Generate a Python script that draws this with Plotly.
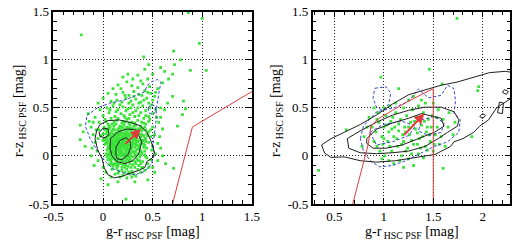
import plotly.graph_objects as go

# ---------------- data ----------------
left_pts = [
 (0.03,0.36),(0.09,0.33),(0.14,0.37),(0.19,0.34),(0.24,0.38),(0.29,0.35),(0.35,0.37),(0.41,0.34),(0.46,0.36),
 (0.01,0.3),(0.06,0.28),(0.11,0.31),(0.16,0.29),(0.21,0.32),(0.26,0.29),(0.31,0.31),(0.36,0.28),(0.42,0.3),(0.48,0.27),
 (-0.04,0.27),(0.04,0.25),(0.09,0.26),(0.13,0.24),(0.18,0.27),(0.23,0.25),(0.28,0.26),(0.33,0.24),(0.39,0.26),(0.44,0.23),
 (-0.02,0.21),(0.03,0.19),(0.07,0.22),(0.11,0.2),(0.15,0.22),(0.19,0.2),(0.22,0.23),(0.26,0.21),(0.3,0.19),(0.34,0.22),(0.38,0.2),(0.43,0.18),
 (0.0,0.16),(0.05,0.15),(0.09,0.17),(0.12,0.15),(0.16,0.17),(0.2,0.16),(0.24,0.18),(0.27,0.15),(0.31,0.17),(0.35,0.15),(0.4,0.16),(0.46,0.14),
 (0.02,0.12),(0.06,0.1),(0.1,0.13),(0.13,0.11),(0.17,0.13),(0.21,0.11),(0.25,0.13),(0.28,0.1),(0.32,0.12),(0.36,0.1),(0.41,0.12),
 (0.04,0.06),(0.08,0.08),(0.11,0.05),(0.15,0.07),(0.18,0.09),(0.22,0.06),(0.26,0.08),(0.3,0.05),(0.34,0.07),(0.38,0.05),(0.44,0.08),
 (0.03,0.02),(0.07,0.0),(0.1,0.03),(0.14,0.01),(0.17,0.03),(0.21,0.0),(0.24,0.02),(0.28,0.0),(0.32,0.02),(0.37,-0.01),(0.42,0.01),
 (0.05,-0.04),(0.09,-0.02),(0.13,-0.05),(0.16,-0.03),(0.2,-0.05),(0.24,-0.03),(0.29,-0.05),(0.34,-0.03),(0.4,-0.06),
 (0.06,-0.09),(0.11,-0.08),(0.15,-0.1),(0.2,-0.09),(0.25,-0.11),(0.3,-0.09),(0.36,-0.1),(0.45,-0.08),
 (0.09,-0.14),(0.14,-0.13),(0.19,-0.15),(0.24,-0.14),(0.29,-0.16),(0.35,-0.14),(0.42,-0.15),
 (0.12,-0.19),(0.2,-0.2),(0.27,-0.19),(0.33,-0.21),(0.08,-0.22),
 (0.12,0.09),(0.16,0.04),(0.19,0.12),(0.23,0.15),(0.14,0.18),(0.18,0.07),(0.22,0.02),(0.26,0.05),(0.2,0.19),(0.25,0.24),
 (0.17,0.22),(0.13,0.14),(0.1,0.07),(0.15,-0.01),(0.19,0.03),(0.23,0.1),(0.27,0.19),(0.29,0.13),(0.08,0.12),(0.11,0.19),
 (0.16,0.1),(0.21,0.14),(0.24,0.07),(0.18,-0.06),(0.12,-0.03),(0.3,0.23),(0.22,0.28),(0.07,0.04),(0.26,-0.01),(0.33,0.18),
 (0.05,0.33),(0.11,0.35),(0.17,0.31),(0.22,0.35),(0.27,0.32),(0.32,0.34),(0.38,0.31),(0.43,0.33),
 (0.02,0.27),(0.07,0.3),(0.12,0.27),(0.17,0.25),(0.2,0.29),(0.25,0.27),(0.3,0.28),(0.35,0.26),(0.4,0.28),(0.46,0.25),
 (0.0,0.23),(0.05,0.21),(0.1,0.23),(0.14,0.2),(0.18,0.23),(0.21,0.21),(0.24,0.21),(0.29,0.22),(0.32,0.2),(0.37,0.23),(0.41,0.21),
 (0.02,0.17),(0.07,0.18),(0.1,0.15),(0.14,0.16),(0.18,0.18),(0.22,0.17),(0.25,0.16),(0.29,0.18),(0.33,0.16),(0.37,0.17),(0.43,0.15),
 (0.04,0.13),(0.08,0.14),(0.11,0.11),(0.15,0.12),(0.19,0.14),(0.22,0.12),(0.26,0.11),(0.3,0.13),(0.34,0.11),(0.39,0.13),
 (0.05,0.09),(0.09,0.1),(0.13,0.07),(0.17,0.08),(0.2,0.1),(0.24,0.09),(0.28,0.07),(0.32,0.09),(0.36,0.07),(0.41,0.09),
 (0.06,0.03),(0.09,0.05),(0.12,0.02),(0.16,0.06),(0.19,0.05),(0.23,0.04),(0.27,0.03),(0.31,0.04),(0.35,0.02),(0.39,0.03),
 (0.04,-0.01),(0.08,-0.05),(0.11,0.0),(0.15,-0.04),(0.18,0.0),(0.22,-0.02),(0.26,-0.05),(0.3,-0.01),(0.35,-0.05),(0.44,-0.02),
 (0.08,-0.07),(0.13,-0.09),(0.17,-0.08),(0.22,-0.07),(0.27,-0.08),(0.32,-0.12),(0.38,-0.08),(0.4,-0.12),
 (0.1,-0.11),(0.16,-0.16),(0.22,-0.12),(0.26,-0.17),(0.31,-0.19),(0.38,-0.17),(0.17,-0.22),(0.24,-0.23),
 (0.06,0.31),(0.13,0.33),(0.2,0.36),(0.26,0.34),(0.33,0.32),(0.39,0.35),
 (0.04,0.28),(0.1,0.28),(0.15,0.27),(0.19,0.3),(0.24,0.3),(0.28,0.29),(0.33,0.28),(0.38,0.29),(0.43,0.27),
 (0.03,0.23),(0.08,0.24),(0.12,0.22),(0.16,0.24),(0.2,0.24),(0.23,0.22),(0.27,0.23),(0.31,0.24),(0.35,0.24),(0.39,0.22),(0.45,0.21),
 (0.04,0.18),(0.08,0.2),(0.12,0.17),(0.16,0.19),(0.19,0.17),(0.23,0.19),(0.26,0.17),(0.3,0.16),(0.34,0.19),(0.38,0.16),(0.42,0.18),
 (0.03,0.14),(0.07,0.12),(0.11,0.14),(0.15,0.14),(0.18,0.11),(0.22,0.14),(0.25,0.11),(0.29,0.11),(0.33,0.13),(0.37,0.12),(0.42,0.11),
 (0.06,0.07),(0.1,0.09),(0.14,0.09),(0.17,0.06),(0.21,0.08),(0.25,0.06),(0.29,0.08),(0.33,0.05),(0.37,0.08),(0.42,0.05),
 (0.05,0.01),(0.08,0.02),(0.13,0.04),(0.16,0.01),(0.2,0.02),(0.24,0.0),(0.28,0.03),(0.33,0.0),(0.38,0.01),(0.43,-0.01),
 (0.07,-0.03),(0.11,-0.03),(0.14,-0.07),(0.19,-0.03),(0.23,-0.05),(0.27,-0.03),(0.32,-0.06),(0.37,-0.05),
 (0.09,-0.09),(0.14,-0.11),(0.19,-0.12),(0.23,-0.09),(0.28,-0.12),(0.33,-0.08),(0.39,-0.12),(0.15,-0.18),(0.22,-0.17),(0.29,-0.22),
 (-0.08,0.4),(0.0,0.42),(0.06,0.45),(0.12,0.41),(0.18,0.44),(0.22,0.4),(0.27,0.43),(0.32,0.41),(0.38,0.45),(0.43,0.42),(0.5,0.44),
 (-0.03,0.48),(0.04,0.5),(0.1,0.52),(0.15,0.48),(0.2,0.51),(0.25,0.49),(0.3,0.53),(0.35,0.5),(0.4,0.52),(0.47,0.5),(0.53,0.48),
 (0.08,0.57),(0.14,0.58),(0.19,0.56),(0.23,0.6),(0.28,0.57),(0.33,0.59),(0.38,0.56),(0.44,0.6),(0.5,0.58),
 (0.13,0.64),(0.2,0.66),(0.26,0.63),(0.31,0.67),(0.36,0.64),(0.42,0.68),(0.47,0.72),(0.53,0.66),
 (0.18,0.7),(0.29,0.73),(0.35,0.71),(0.4,0.75),(0.45,0.8),(0.24,0.77),
 (0.02,0.38),(0.08,0.39),(0.15,0.39),(0.21,0.42),(0.26,0.39),(0.3,0.45),(0.36,0.42),(0.41,0.39),(0.46,0.41),
 (0.07,0.48),(0.13,0.46),(0.23,0.47),(0.28,0.5),(0.33,0.47),(0.43,0.47),(0.49,0.53),
 (0.11,0.55),(0.17,0.53),(0.26,0.55),(0.31,0.62),(0.36,0.55),(0.41,0.58),(0.46,0.55),(0.22,0.63),(0.39,0.63),(0.45,0.66),
 (-0.1,0.35),(-0.07,0.27),(-0.05,0.18),(-0.11,0.08),(0.48,0.2),(0.49,0.06),(0.46,-0.12),(0.54,0.4),
 (-0.12,0.3),(-0.1,0.22),(-0.08,0.14),(-0.06,0.05),(-0.04,0.35),(-0.14,0.36),(-0.2,0.25),(-0.05,-0.05),(0.0,-0.12),(0.03,-0.17),
 (0.5,0.3),(0.52,0.22),(0.5,0.1),(0.53,0.02),(0.48,-0.04),(0.5,-0.12),(0.56,0.35),(0.58,0.5),(0.47,0.38),(0.55,0.13),
 (-0.22,1.26),(0.86,1.49),(1.0,1.43),(0.97,1.17),(0.71,1.09),(0.41,1.03),(0.78,1.0),(0.72,0.95),(0.88,0.89),(1.04,0.89),
 (0.62,0.88),(0.5,0.85),(0.35,0.84),(0.42,0.9),(0.46,0.95),(0.38,0.78),(0.3,0.8),(0.25,0.85),(0.55,0.7),(0.6,0.76),
 (0.66,0.8),(0.7,0.85),(0.58,0.92),(0.81,0.57),(0.83,0.49),(0.8,0.43),(0.75,0.31),(0.63,-0.08),(0.71,-0.13),(-0.02,-0.24),
 (0.23,-0.45),(-0.23,0.32),(-0.23,0.17),(-0.15,0.44),(0.65,0.55),(0.7,0.62),(0.62,0.48),(0.58,0.4),(0.6,0.28),(0.57,0.2),
 (0.58,0.08),(0.6,0.0),(0.55,-0.05),(0.52,-0.17),(0.45,-0.25),(0.32,-0.27),(0.15,-0.27),(0.05,-0.3),(-0.09,-0.1),(-0.12,0.0),
 (-0.18,0.1),(0.2,0.82),(0.15,0.74),(0.1,0.7),(0.05,0.65),(0.0,0.6),(-0.05,0.55),(0.48,0.65),(0.52,0.62),
]
right_pts = [
 (1.74,1.43),(1.46,0.9),(0.97,0.82),(0.34,-0.15),(1.6,-0.13),(1.59,0.75),(0.62,0.27),(1.96,0.72),(1.89,0.2),(1.95,0.68),
 (1.15,0.7),(1.3,0.62),(1.38,0.58),(1.5,0.55),(1.55,0.48),(1.6,0.38),(1.65,0.3),(1.7,0.22),(0.9,0.5),(0.85,0.4),
 (0.88,0.3),(0.92,0.25),(0.95,0.35),(0.98,0.2),(1.0,0.3),(1.02,0.42),(1.04,0.15),(1.05,0.25),(1.07,0.36),(1.08,0.05),
 (1.1,0.2),(1.11,0.3),(1.12,0.45),(1.14,0.1),(1.15,0.26),(1.17,0.38),(1.18,0.0),(1.2,0.15),(1.21,0.3),(1.23,0.42),
 (1.24,0.08),(1.26,0.22),(1.27,0.35),(1.29,0.48),(1.3,0.12),(1.32,0.28),(1.33,0.4),(1.35,0.02),(1.36,0.18),(1.38,0.32),
 (1.4,0.45),(1.42,0.1),(1.43,0.25),(1.45,0.38),(1.47,0.15),(1.48,0.3),(1.5,0.05),(1.52,0.22),(1.53,0.4),(1.56,0.12),
 (0.9,0.15),(0.93,0.1),(0.96,0.05),(0.99,0.12),(1.01,0.0),(1.03,0.32),(1.06,0.1),(1.09,0.4),(1.13,0.18),(1.16,-0.05),
 (1.19,0.22),(1.22,0.05),(1.25,0.3),(1.28,0.16),(1.31,0.36),(1.34,0.24),(1.37,0.08),(1.39,0.2),(1.41,0.36),(1.44,0.06),
 (1.46,0.22),(1.49,0.42),(1.51,0.12),(1.54,0.3),(1.58,0.2),
 (0.94,0.45),(1.0,0.5),(1.06,0.52),(1.12,0.55),(1.2,0.5),(1.25,0.58),(1.35,0.52),(1.42,0.55),(0.98,-0.03),(1.1,-0.08),
 (1.25,-0.03),(1.4,-0.02),(1.3,-0.1),(1.2,-0.12),(1.05,-0.05),(0.93,0.38),(1.15,0.33),(1.22,0.25),(1.28,0.02),(1.34,0.12),
 (1.18,0.12),(1.08,0.28),(1.0,0.18),(1.44,0.3),(1.62,0.1),(1.66,0.45),(1.72,0.35),(0.8,0.2),(0.78,0.1),(0.83,0.3),
]
gx_left = [p[0] for p in left_pts]
gy_left = [p[1] for p in left_pts]
gx_right = [p[0] for p in right_pts]
gy_right = [p[1] for p in right_pts]

# contour paths (left panel)
left_black = [
 [(-0.033,0.325),(0.049,0.367),(0.162,0.374),(0.275,0.348),(0.373,0.315),(0.444,0.244),(0.486,0.146),(0.518,0.032),
  (0.496,-0.023),(0.444,-0.055),(0.421,-0.12),(0.356,-0.153),(0.275,-0.18),(0.194,-0.212),(0.113,-0.228),(0.049,-0.195),
  (0.01,-0.12),(-0.009,-0.033),(-0.055,0.065),(-0.081,0.179),(-0.065,0.26),(-0.033,0.325)],
 [(0.075,0.18),(0.15,0.25),(0.245,0.28),(0.33,0.27),(0.39,0.15),(0.36,0.02),(0.3,-0.05),(0.22,-0.08),(0.14,-0.06),
  (0.09,0.0),(0.07,0.08),(0.075,0.18)],
 [(0.13,0.0),(0.13,0.09),(0.17,0.16),(0.23,0.19),(0.27,0.16),(0.28,0.09),(0.25,0.01),(0.19,-0.04),(0.14,-0.03),(0.13,0.0)],
 [(-0.04,0.24),(0.0,0.29),(0.05,0.28),(0.06,0.22),(0.02,0.19),(-0.03,0.2),(-0.04,0.24)],
]
left_blue = [
 [(-0.162,0.422),(-0.05,0.504),(0.08,0.553),(0.21,0.58),(0.308,0.618),(0.42,0.667),(0.444,0.732),(0.486,0.77),
  (0.55,0.796),(0.583,0.764),(0.567,0.683),(0.55,0.57),(0.535,0.47),(0.535,0.374),(0.518,0.244),(0.503,0.114),
  (0.518,0.016),(0.486,-0.082),(0.42,-0.163),(0.324,-0.196),(0.21,-0.18),(0.097,-0.131),(0.016,-0.049),
  (-0.065,0.065),(-0.13,0.179),(-0.178,0.309),(-0.162,0.422)],
 [(0.455,0.5),(0.48,0.535),(0.525,0.52),(0.53,0.46),(0.5,0.43),(0.46,0.45),(0.455,0.5)],
]
# contour paths (right panel)
right_black = [
 [(0.37,0.114),(0.466,0.18),(0.598,0.245),(0.762,0.327),(0.925,0.425),(1.088,0.54),(1.252,0.637),(1.415,0.686),
  (1.578,0.735),(1.741,0.768),(1.905,0.817),(2.068,0.866),(2.23,0.88),(2.29,0.87)],
 [(2.29,0.6),(2.2,0.54),(2.14,0.5),(2.06,0.375),(1.97,0.31),(1.91,0.245),(1.8,0.18),(1.71,0.147),(1.675,0.098),
  (1.52,0.016),(1.32,-0.016),(1.12,-0.05),(0.925,-0.065),(0.76,-0.05),(0.6,-0.01),(0.466,-0.016),(0.4,0.03),(0.37,0.114)],
 [(0.63,0.18),(0.76,0.26),(0.925,0.35),(1.09,0.425),(1.25,0.474),(1.415,0.507),(1.58,0.507),(1.71,0.46),(1.76,0.375),
  (1.745,0.31),(1.645,0.245),(1.55,0.18),(1.415,0.098),(1.25,0.05),(1.09,0.033),(0.925,0.023),(0.76,0.033),(0.645,0.08),(0.63,0.18)],
 [(0.827,0.18),(0.925,0.277),(1.088,0.343),(1.252,0.392),(1.38,0.44),(1.578,0.392),(1.61,0.31),(1.51,0.245),(1.35,0.18),
  (1.186,0.114),(1.02,0.08),(0.892,0.08),(0.827,0.13),(0.827,0.18)],
 [(2.15,0.45),(2.17,0.56),(2.21,0.55),(2.2,0.44),(2.15,0.45)],
 [(2.2,0.66),(2.22,0.69),(2.26,0.67),(2.24,0.64),(2.2,0.66)],
 [(1.97,0.41),(2.0,0.44),(2.03,0.42),(2.0,0.39),(1.97,0.41)],
]
right_blue = [
 [(0.762,0.18),(0.794,0.31),(0.925,0.457),(1.12,0.507),(1.25,0.57),(1.35,0.696),(1.45,0.604),(1.578,0.63),(1.645,0.735),
  (1.71,0.7),(1.725,0.57),(1.71,0.44),(1.774,0.375),(1.758,0.245),(1.645,0.147),(1.51,0.098),(1.35,0.016),(1.22,-0.05),
  (1.088,-0.1),(0.958,-0.114),(0.86,-0.05),(0.794,0.05),(0.762,0.18)],
 [(0.91,0.704),(1.02,0.72),(1.07,0.653),(1.05,0.54),(0.99,0.474),(0.925,0.507),(0.89,0.604),(0.91,0.704)],
 [(0.86,0.245),(0.99,0.327),(1.186,0.36),(1.32,0.31),(1.25,0.212),(1.09,0.147),(0.925,0.114),(0.86,0.245)],
 [(1.38,0.376),(1.51,0.41),(1.61,0.343),(1.58,0.245),(1.45,0.212),(1.35,0.26),(1.38,0.376)],
]
# red boundary lines
left_red_x = [0.7, 0.9, 1.5]
left_red_y = [-0.5, 0.3, 0.67]
right_red_x = [0.685, 0.84, 0.87, 0.95, 1.088, 1.25, 1.5, 1.5]
right_red_y = [-0.5, 0.114, 0.31, 0.39, 0.474, 0.57, 0.70, -0.5]
# red arrows (tail -> head)
left_arrow = dict(x0=0.21, y0=0.11, x1=0.38, y1=0.28)
right_arrow = dict(x0=1.19, y0=0.2, x1=1.41, y1=0.44)

left_xticks = [-0.5, 0, 0.5, 1, 1.5]
left_xlabels = ["-0.5", "0", "0.5", "1", "1.5"]
right_xticks = [0.5, 1, 1.5, 2]
right_xlabels = ["0.5", "1", "1.5", "2"]
yticks = [-0.5, 0, 0.5, 1, 1.5]
ylabels = ["-0.5", "0", "0.5", "1", "1.5"]

# ---------------- figure ----------------
GREEN = "#3ae23a"
RED = "#e03c3c"
BLUE = "#3a48c8"
FONT = "Liberation Serif, Times New Roman, Times, serif"

fig = go.Figure()

def add_panel(xa, ya, gx, gy, blacks, blues, rx, ry, arrow):
    fig.add_trace(go.Scatter(x=gx, y=gy, mode="markers", xaxis=xa, yaxis=ya,
                             marker=dict(color=GREEN, size=2.8, symbol="square", line=dict(width=0)),
                             showlegend=False, hoverinfo="skip"))
    for path in blues:
        fig.add_trace(go.Scatter(x=[p[0] for p in path], y=[p[1] for p in path], mode="lines",
                                 xaxis=xa, yaxis=ya, line=dict(color=BLUE, width=1, dash="3px,2px"),
                                 showlegend=False, hoverinfo="skip"))
    for path in blacks:
        fig.add_trace(go.Scatter(x=[p[0] for p in path], y=[p[1] for p in path], mode="lines",
                                 xaxis=xa, yaxis=ya, line=dict(color="#202020", width=1),
                                 showlegend=False, hoverinfo="skip"))
    fig.add_trace(go.Scatter(x=rx, y=ry, mode="lines", xaxis=xa, yaxis=ya,
                             line=dict(color=RED, width=1), showlegend=False, hoverinfo="skip"))
    xr = "x" if xa == "x" else "x2"
    yr = "y" if ya == "y" else "y2"
    fig.add_annotation(x=arrow["x1"], y=arrow["y1"], ax=arrow["x0"], ay=arrow["y0"],
                       xref=xr, yref=yr, axref=xr, ayref=yr, text="", showarrow=True,
                       arrowhead=2, arrowsize=1, arrowwidth=2, arrowcolor=RED, standoff=0)

add_panel("x", "y", gx_left, gy_left, left_black, left_blue, left_red_x, left_red_y, left_arrow)
add_panel("x2", "y2", gx_right, gy_right, right_black, right_blue, right_red_x, right_red_y, right_arrow)

def axis(rng, domain, anchor, tv, tt):
    return dict(range=rng, domain=domain, anchor=anchor, tickvals=tv, ticktext=tt,
                showline=True, linecolor="black", linewidth=1.5, mirror="allticks",
                ticks="inside", ticklen=6, tickwidth=1, tickcolor="black",
                showgrid=True, gridcolor="#222222", griddash="1px,2px", gridwidth=1, zeroline=False,
                minor=dict(ticks="inside", ticklen=4, tickwidth=1, dtick=0.1, tick0=0,
                           tickcolor="black", showgrid=False),
                ticklabeloverflow="allow",
                tickfont=dict(family=FONT, size=13, color="black"), fixedrange=True)

ydom = [0.169, 0.980]
fig.update_layout(
    width=520, height=252, margin=dict(l=0, r=0, t=0, b=0),
    paper_bgcolor="white", plot_bgcolor="white",
    xaxis=axis([-0.5, 1.5], [0.0865, 0.482], "y", left_xticks, left_xlabels),
    yaxis=axis([-0.5, 1.5], ydom, "x", yticks, ylabels),
    xaxis2=axis([0.28, 2.28], [0.603, 0.9967], "y2", right_xticks, right_xlabels),
    yaxis2=axis([-0.5, 1.5], ydom, "x2", yticks, ylabels),
    font=dict(family=FONT, color="black"),
)

xtitle = "g-r<sub> HSC PSF</sub> [mag]"
ytitle = "r-z<sub> HSC PSF</sub> [mag]"
for cx in [147.8 / 520, 415.9 / 520]:
    fig.add_annotation(x=cx, y=(252 - 240) / 252, xref="paper", yref="paper", text=xtitle,
                       showarrow=False, font=dict(family=FONT, size=14, color="black"),
                       xanchor="center", yanchor="middle")
for cx in [10 / 520, 276 / 520]:
    fig.add_annotation(x=cx, y=(252 - 110) / 252, xref="paper", yref="paper", text=ytitle,
                       showarrow=False, textangle=-90, font=dict(family=FONT, size=14, color="black"),
                       xanchor="center", yanchor="middle")

fig.write_html("out.html", config={"displayModeBar": False},
               post_script="document.body.style.margin='0';")
